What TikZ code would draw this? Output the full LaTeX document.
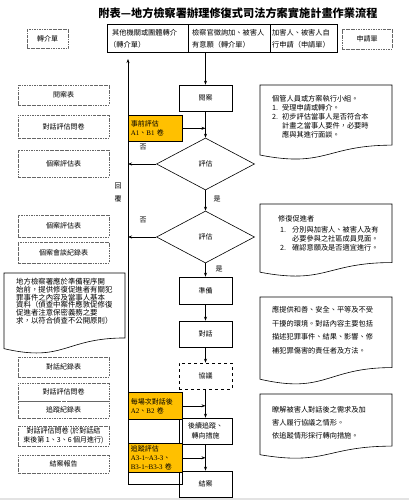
\documentclass[tikz,border=0pt]{standalone}
\usepackage{fontspec}
\setmainfont{Noto Sans CJK TC}
\newfontfamily\lat{Liberation Serif}
\usetikzlibrary{shapes.geometric,arrows.meta}
\definecolor{gold}{HTML}{FFC000}
\newcommand\myfs{\fontsize{7}{9}\selectfont}
\newcommand\notefs{\fontsize{7.2}{9}\selectfont}
\newcommand\leftfs{\fontsize{7.4}{8}\selectfont}
\newcommand\titlefs{\fontsize{11.2}{13}\selectfont}
\newcommand\docshape[4]{%
 \pgfmathsetmacro\dA{#3+0.802*#4}\pgfmathsetmacro\dB{#3+0.934*#4}%
 \pgfmathsetmacro\dC{#3+1.107*#4}\pgfmathsetmacro\dM{(#1+#2)/2}%
 \draw[doc] (#1,#3) -- (#2,#3) -- (#2,\dA) .. controls (\dM,\dA) and (\dM,\dC) .. (#1,\dB) -- cycle;}
\tikzset{
 box/.style={draw, line width=0.6pt, minimum width=53pt, minimum height=26pt, inner sep=0pt, font=\myfs},
 dia/.style={draw, diamond, line width=0.6pt, minimum width=98pt, minimum height=52pt, shape aspect=1.9, inner sep=0pt, font=\myfs},
 dbox/.style={draw=black!60, line width=0.5pt, dash pattern=on 2.5pt off 1pt on 0.6pt off 1pt, inner sep=0pt, minimum width=91pt, font=\myfs},
 cell/.style={draw, line width=0.6pt, minimum height=28pt, inner sep=0pt},
 arr/.style={-{Stealth[length=4pt,width=3pt]}, line width=0.6pt},
 lbl/.style={inner sep=0pt, font=\myfs},
 ln/.style={inner sep=0pt, anchor=west, font=\notefs},
 lln/.style={inner sep=0pt, anchor=west, font=\leftfs},
 ybox/.style={draw, fill=gold, line width=0.6pt, minimum width=54pt, text width=49pt, inner xsep=2.5pt, inner ysep=0pt, align=left, anchor=north west, font=\fontsize{7}{9}\selectfont},
 wcell/.style={draw, line width=0.6pt, minimum width=54pt, inner sep=0pt, anchor=north west},
 doc/.style={draw, line width=0.6pt, fill=white}
}
\begin{document}
\begin{tikzpicture}[x=1pt,y=-1pt]
\useasboundingbox (0,0) rectangle (409,500);
\fill[gray!22] (0,497.5) rectangle (409,500);
\node[font=\titlefs\bfseries, inner sep=0pt] (title) at (238,13) {附表—地方檢察署辦理修復式司法方案實施計畫作業流程};

% top row
\node[dbox, minimum width=41pt, minimum height=19pt] (zjd) at (47.5,38.5) {轉介單};
\node[dbox, minimum width=50pt, minimum height=20pt] (sqd) at (367,39) {申請單};
\node[cell, minimum width=81pt] (c1) at (147.5,38) {};
\node[cell, minimum width=82pt] (c2) at (229,38) {};
\node[cell, minimum width=67pt] (c3) at (303.5,38) {};
\node[ln] (c1a) at (112,32.5) {其他機關或團體轉介};
\node[ln] (c1b) at (109,45) {（轉介單）};
\node[ln] (c2a) at (192,32.5) {檢察官徵詢加、被害人};
\node[ln] (c2b) at (192,45) {有意願（轉介單）};
\node[ln] (c3a) at (272,32.5) {加害人、被害人自};
\node[ln] (c3b) at (272,45) {行申請（申請單）};

% main column
\node[box] (ya) at (205.5,98) {閱案};
\node[dia] (d1) at (205.5,164) {評估};
\node[dia] (d2) at (205.5,237) {評估};
\node[box, minimum height=27pt] (zb) at (205.5,290.5) {準備};
\node[box] (dh) at (205.5,334) {對話};
\node[box, dashed] (xy) at (205.5,376) {協議};
\node[box, align=center, font=\fontsize{7}{10.5}\selectfont] (hx) at (205.5,431) {後續追蹤、\\轉向措施};
\node[box] (ja) at (205.5,484) {結案};

\draw[arr] (ya.north |- c2.south) -- (ya.north);
\draw[arr] (ya) -- (d1);
\draw[arr] (d1) -- (d2);
\draw[arr] (d2) -- (zb);
\draw[arr] (zb) -- (dh);
\draw[arr] (dh) -- (xy);
\draw[arr] (xy) -- (hx);
\draw[arr] (hx) -- (ja);

% left return line
\coordinate (lt) at (128,59);
\coordinate (lb) at (128,484);
\draw[arr] (lb) -- (lt);
\draw[arr] (d1.west) -- (d1.west -| lt);
\draw[arr] (d2.west) -- (d2.west -| lt);
\node[lbl] (f1) at (143,147) {否};
\node[lbl] (f2) at (143,220) {否};
\node[lbl] (s1) at (217,199) {是};
\node[lbl] (s2) at (219,269) {是};
\node[lbl, align=center, font=\fontsize{7}{13}\selectfont] (hf) at (118,192) {回\\覆};

% yellow boxes
\node[ybox, minimum height=26pt] (e1) at (128,115) {事前評估\\{\lat A1}、{\lat B1} 卷};
\draw[arr] (e1.east) -- (e1.east -| ya.south);
\node[ybox, minimum height=27pt] (e2) at (128,392) {每場次對話後\\{\lat A2}、{\lat B2} 卷};
\node[wcell, minimum height=24pt] (w1) at (128,419) {};
\node[ybox, minimum height=29pt, font=\fontsize{7}{9.3}\selectfont] (e3) at (128,443) {追蹤評估\\{\lat A3-1\textasciitilde A3-3}、\\{\lat B3-1\textasciitilde B3-3} 卷};
\node[wcell, minimum height=12pt] (w2) at (128,472) {};
\draw[arr] (e2.east) -- (e2.east -| xy.south);
\draw[arr] (e3.east) -- (e3.east -| hx.south);

% left forms
\node[dbox, minimum height=20pt] (l1) at (63.5,95) {閱案表};
\node[dbox, minimum height=23pt] (l2) at (63.5,126.5) {對話評估問卷};
\node[dbox, minimum height=27pt] (l3) at (63.5,163.5) {個案評估表};
\node[dbox, minimum height=22pt] (l4) at (63.5,226) {個案評估表};
\node[dbox, minimum height=21pt] (l5) at (63.5,252.5) {個案會談紀錄表};
\node[dbox, minimum height=20pt] (l6) at (63.5,367) {對話紀錄表};
\node[dbox, minimum height=18pt] (l7) at (63.5,392) {對話評估問卷};
\node[dbox, minimum height=17pt] (l8) at (63.5,409.5) {追蹤紀錄表};
\node[dbox, minimum height=20pt, align=center, font=\fontsize{7}{9.2}\selectfont] (l9) at (63.5,436) {對話評估問卷 (於對話結\\束後第 1、3、6 個月進行)};
\node[dbox, minimum height=18pt] (l10) at (63.5,464) {結案報告};

% left note
\docshape{4}{125}{273}{81}
\node[lln] (ta) at (16,282) {地方檢察署應於準備程序開};
\node[lln] (tb) at (16,289.7) {始前，提供修復促進者有關犯};
\node[lln] (tc) at (16,297.4) {罪事件之內容及當事人基本};
\node[lln] (td) at (16,305.1) {資料（偵查中案件應敦促修復};
\node[lln] (te) at (16,312.8) {促進者注意保密義務之要};
\node[lln] (tf) at (16,320.5) {求，以符合偵查不公開原則）};

% right notes
\docshape{260}{392}{85}{75}
\node[ln] (n1a) at (272,99) {個管人員或方案執行小組。};
\node[ln] (n1b) at (272,108) {1.};
\node[ln] (n1c) at (282,108) {受理申請或轉介。};
\node[ln] (n1d) at (272,117) {2.};
\node[ln] (n1e) at (282,117) {初步評估當事人是否符合本};
\node[ln] (n1f) at (282,126) {計畫之當事人要件，必要時};
\node[ln] (n1g) at (282,135) {應與其進行面談。};

\docshape{260}{392}{204}{73}
\node[ln] (n2a) at (278,219) {修復促進者};
\node[ln] (n2b) at (280,230) {1.};
\node[ln] (n2c) at (292,230) {分別與加害人、被害人及有};
\node[ln] (n2d) at (292,239) {必要參與之社區成員見面。};
\node[ln] (n2e) at (280,248) {2.};
\node[ln] (n2f) at (292,248) {確認意願及是否適宜進行。};

\docshape{260}{392}{297}{88}
\node[ln] (n3a) at (272,310) {應提供和善、安全、平等及不受};
\node[ln] (n3b) at (272,323.5) {干擾的環境。對話內容主要包括};
\node[ln] (n3c) at (272,337) {描述犯罪事件、結果、影響、修};
\node[ln] (n3d) at (272,350.5) {補犯罪傷害的責任者及方法。};

\docshape{260}{392}{394}{65}
\node[ln] (n4a) at (272,410) {瞭解被害人對話後之需求及加};
\node[ln] (n4b) at (272,423) {害人履行協議之情形。};
\node[ln] (n4c) at (272,436) {依追蹤情形採行轉向措施。};
\end{tikzpicture}
\end{document}
